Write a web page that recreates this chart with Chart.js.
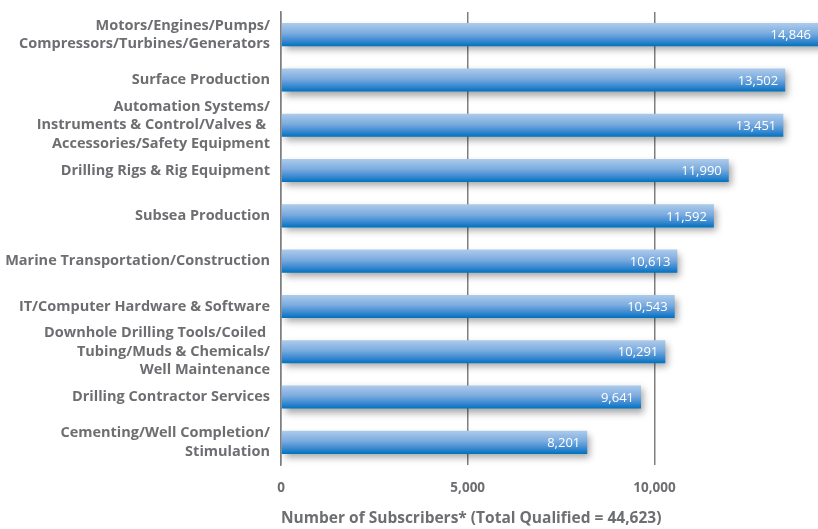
<!DOCTYPE html>
<html>
<head>
<meta charset="utf-8">
<script src="https://cdn.jsdelivr.net/npm/chart.js@4"></script>
<style>
  html, body { margin: 0; padding: 0; background: #fff; }
  #wrap { width: 818px; height: 529px; }
</style>
</head>
<body>
<div id="wrap"><canvas id="subsChart"></canvas></div>
<script>
// Datos del gráfico
const categorias = [
    ['Motors/Engines/Pumps/', 'Compressors/Turbines/Generators'],
    'Surface Production',
    ['Automation Systems/', 'Instruments & Control/Valves & ', 'Accessories/Safety Equipment'],
    'Drilling Rigs & Rig Equipment',
    'Subsea Production',
    'Marine Transportation/Construction',
    'IT/Computer Hardware & Software',
    ['Downhole Drilling Tools/Coiled ', 'Tubing/Muds & Chemicals/', 'Well Maintenance'],
    'Drilling Contractor Services',
    ['Cementing/Well Completion/', 'Stimulation']
];
const suscriptores = [14846, 13502, 13451, 11990, 11592, 10613, 10543, 10291, 9641, 8201];
const ticksX = [0, 5000, 10000];
const tituloX = 'Number of Subscribers* (Total Qualified = 44,623)';

const gris = '#6d6e71';
const fuente = '"Open Sans"';

// degradado vertical por barra
function degradado(context) {
    const chart = context.chart;
    const y = chart.scales.y;
    if (!chart.chartArea || !y) return '#4a8fd3';
    const cy = y.getPixelForValue(context.dataIndex);
    const h = 23;
    const g = chart.ctx.createLinearGradient(0, cy - h / 2, 0, cy + h / 2);
    g.addColorStop(0, '#adcbeb');
    g.addColorStop(0.45, '#7aabdf');
    g.addColorStop(0.8, '#3285cf');
    g.addColorStop(1, '#0072bd');
    return g;
}

// sombra de las barras
const sombra = {
    id: 'sombra',
    beforeDatasetsDraw(chart) {
        const ctx = chart.ctx;
        ctx.save();
        ctx.shadowColor = 'rgba(0,0,0,0.35)';
        ctx.shadowBlur = 7;
        ctx.shadowOffsetX = 3;
        ctx.shadowOffsetY = 4;
    },
    afterDatasetsDraw(chart) {
        chart.ctx.restore();
    }
};

// valores dentro de la barra
const etiquetas = {
    id: 'etiquetas',
    afterDatasetsDraw(chart) {
        const ctx = chart.ctx;
        const meta = chart.getDatasetMeta(0);
        ctx.save();
        ctx.fillStyle = '#ffffff';
        ctx.font = '13px ' + fuente;
        ctx.textAlign = 'right';
        ctx.textBaseline = 'middle';
        meta.data.forEach((bar, i) => {
            const x = Math.min(bar.x, chart.chartArea.right);
            ctx.fillText(suscriptores[i].toLocaleString('en-US'), x - 7, bar.y + 1);
        });
        ctx.restore();
    }
};

const ctxSubs = document.getElementById('subsChart').getContext('2d');
const subsChart = new Chart(ctxSubs, {
    type: 'bar',
    data: {
        labels: categorias,
        datasets: [{
            label: 'Subscribers',
            data: suscriptores,
            backgroundColor: degradado,
            borderWidth: 0,
            barPercentage: 0.85,
            categoryPercentage: 0.6
        }]
    },
    options: {
        indexAxis: 'y',
        responsive: true,
        maintainAspectRatio: false,
        animation: false,
        layout: { padding: { top: 12, right: 0, left: 0, bottom: 0 } },
        plugins: {
            legend: { display: false },
            tooltip: { enabled: false }
        },
        scales: {
            x: {
                min: 0,
                max: 14380,
                afterBuildTicks: (scale) => {
                    scale.ticks = ticksX.map(v => ({ value: v }));
                },
                afterFit: (scale) => {
                    scale.height = 64;
                    scale.paddingLeft = 0;
                    scale.paddingRight = 0;
                },
                grid: { color: '#7f7f7f', lineWidth: 1.5, drawTicks: false },
                border: { display: false },
                ticks: {
                    color: gris,
                    padding: 15,
                    font: { family: fuente, size: 13.5, weight: 'bold' },
                    callback: (v) => v.toLocaleString('en-US')
                },
                title: {
                    display: true,
                    text: tituloX,
                    align: 'start',
                    color: gris,
                    font: { family: fuente, size: 15.5, weight: 'bold' },
                    padding: { top: 4, bottom: 1 }
                }
            },
            y: {
                afterFit: (scale) => {
                    scale.width = 281;
                    scale.paddingTop = 0;
                    scale.paddingBottom = 0;
                },
                grid: { display: false, drawTicks: false },
                border: { display: true, color: '#7f7f7f', width: 1.5 },
                ticks: {
                    autoSkip: false,
                    color: gris,
                    padding: 11,
                    font: { family: fuente, size: 14.5, weight: 'bold', lineHeight: 1.27 }
                }
            }
        }
    },
    plugins: [sombra, etiquetas]
});
</script>
</body>
</html>
